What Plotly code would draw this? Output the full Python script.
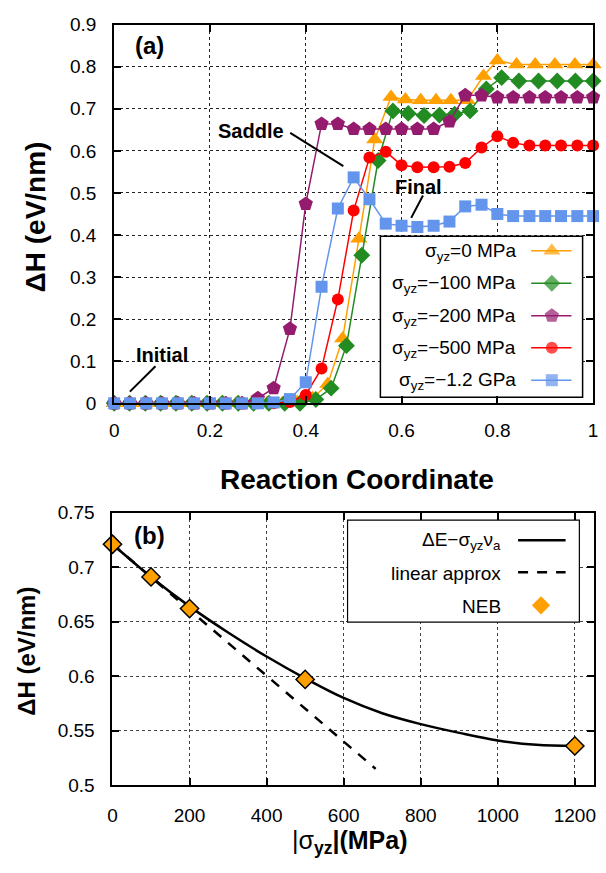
import plotly.graph_objects as go

# ---------------- panel (a): enthalpy along the reaction coordinate ----------------
rc_0 = [0.000, 0.032, 0.064, 0.096, 0.128, 0.159, 0.191, 0.223, 0.255, 0.287, 0.319, 0.351,
        0.382, 0.414, 0.446, 0.477, 0.511, 0.544, 0.578, 0.608, 0.640, 0.672, 0.703, 0.737,
        0.771, 0.800, 0.840, 0.879, 0.920, 0.962, 1.000]
dh_0 = [0, 0, 0, 0, 0, 0, 0, 0, 0, 0, 0, 0,
        0.003, 0.012, 0.046, 0.154, 0.391, 0.627, 0.728, 0.722, 0.720, 0.720, 0.720, 0.720,
        0.778, 0.815, 0.805, 0.805, 0.805, 0.805, 0.805]

rc_100 = [0.000, 0.032, 0.065, 0.097, 0.129, 0.162, 0.194, 0.226, 0.259, 0.291, 0.323, 0.356,
          0.388, 0.421, 0.453, 0.485, 0.517, 0.551, 0.582, 0.614, 0.647, 0.679, 0.711, 0.743,
          0.777, 0.809, 0.845, 0.886, 0.925, 0.963, 1.000]
dh_100 = [0, 0, 0, 0, 0, 0, 0, 0, 0, 0, 0, 0,
          0, 0.009, 0.036, 0.137, 0.352, 0.577, 0.695, 0.689, 0.684, 0.685, 0.687, 0.695,
          0.747, 0.774, 0.766, 0.766, 0.766, 0.766, 0.766]

rc_200 = [0.000, 0.033, 0.067, 0.100, 0.133, 0.167, 0.200, 0.233, 0.267, 0.300, 0.333, 0.367,
          0.400, 0.433, 0.467, 0.500, 0.533, 0.567, 0.600, 0.633, 0.667, 0.700, 0.733, 0.767,
          0.800, 0.833, 0.867, 0.900, 0.933, 0.967, 1.000]
dh_200 = [0, 0, 0, 0, 0, 0, 0, 0, 0, 0.012, 0.036, 0.177,
          0.474, 0.664, 0.664, 0.652, 0.652, 0.652, 0.652, 0.652, 0.652, 0.670, 0.732, 0.732,
          0.727, 0.727, 0.727, 0.727, 0.727, 0.727, 0.727]

rc_500 = list(rc_200)
dh_500 = [0, 0, 0, 0, 0, 0, 0, 0, 0, 0, 0, 0.003,
          0.020, 0.083, 0.247, 0.458, 0.584, 0.598, 0.566, 0.561, 0.561, 0.562, 0.571, 0.608,
          0.635, 0.619, 0.613, 0.613, 0.613, 0.613, 0.613]

rc_1200 = list(rc_200)
dh_1200 = [0, 0, 0, 0, 0, 0, 0, 0, 0, 0, 0.002, 0.010,
           0.050, 0.277, 0.463, 0.537, 0.485, 0.427, 0.422, 0.419, 0.422, 0.432, 0.468, 0.472,
           0.450, 0.445, 0.445, 0.445, 0.445, 0.445, 0.445]

series_labels = ["σ<sub>yz</sub>=0 MPa", "σ<sub>yz</sub>=−100 MPa", "σ<sub>yz</sub>=−200 MPa",
                 "σ<sub>yz</sub>=−500 MPa", "σ<sub>yz</sub>=−1.2 GPa"]
series_x = [rc_0, rc_100, rc_200, rc_500, rc_1200]
series_y = [dh_0, dh_100, dh_200, dh_500, dh_1200]
series_colors = ["#FFA000", "#228B22", "#951B6E", "#FF0000", "#6495ED"]
series_symbols = ["triangle-up", "diamond", "pentagon", "circle", "square"]
series_sizes = [15, 13, 15, 12, 12]

ticks_a_x = [0, 0.2, 0.4, 0.6, 0.8, 1]
ticks_a_x_text = ["0", "0.2", "0.4", "0.6", "0.8", "1"]
ticks_a_y = [0, 0.1, 0.2, 0.3, 0.4, 0.5, 0.6, 0.7, 0.8, 0.9]
ticks_a_y_text = ["0", "0.1", "0.2", "0.3", "0.4", "0.5", "0.6", "0.7", "0.8", "0.9"]

# ---------------- panel (b): barrier versus applied shear stress ----------------
stress_neb = [0, 100, 200, 500, 1200]
dh_neb = [0.721, 0.691, 0.662, 0.597, 0.536]

stress_model = [0, 100, 200, 300, 400, 500, 600, 700, 800, 900, 1000, 1100, 1200]
dh_model = [0.721, 0.691, 0.664, 0.640, 0.618, 0.598, 0.580, 0.566, 0.556, 0.548, 0.541, 0.537, 0.536]

stress_linear = [0, 683]
dh_linear = [0.721, 0.515]

ticks_b_x = [0, 200, 400, 600, 800, 1000, 1200]
ticks_b_y = [0.5, 0.55, 0.6, 0.65, 0.7, 0.75]
ticks_b_y_text = ["0.5", "0.55", "0.6", "0.65", "0.7", "0.75"]

W, H = 606, 873
FONT = "Liberation Sans, Arial, sans-serif"

# pixel frames of the two plotting areas
A_L, A_R, A_T, A_B = 111, 598, 15, 403
B_L, B_R, B_T, B_B = 109.3, 599, 515, 794.3
A_XR, A_YR = (0, 1), (0, 0.9)
B_XR, B_YR = (0, 1250), (0.5, 0.75)


def ax_a(px):
    return A_XR[0] + (px - A_L) / (A_R - A_L) * (A_XR[1] - A_XR[0])


def ay_a(py):
    return A_YR[0] + (A_B - py) / (A_B - A_T) * (A_YR[1] - A_YR[0])


def ax_b(px):
    return B_XR[0] + (px - B_L) / (B_R - B_L) * (B_XR[1] - B_XR[0])


def ay_b(py):
    return B_YR[0] + (B_B - py) / (B_B - B_T) * (B_YR[1] - B_YR[0])


def paper(px, py):
    return px / W, 1 - py / H


fig = go.Figure()

for xs, ys, col, sym, sz in zip(series_x, series_y, series_colors, series_symbols, series_sizes):
    fig.add_trace(go.Scatter(
        x=xs, y=ys, mode="lines+markers", xaxis="x", yaxis="y",
        line=dict(color=col, width=1.5),
        marker=dict(symbol=sym, size=sz, color=col, line=dict(width=0)),
        cliponaxis=False, showlegend=False, hoverinfo="skip"))

# key for panel (a)
key_a_rows = [246.7, 280, 313.3, 346, 379.3]
for lab, col, sym, sz, py in zip(series_labels, series_colors, series_symbols, series_sizes, key_a_rows):
    fig.add_trace(go.Scatter(
        x=[ax_a(535), ax_a(556), ax_a(576)], y=[ay_a(py)] * 3, mode="lines+markers",
        xaxis="x", yaxis="y", line=dict(color=col, width=1.5),
        marker=dict(symbol=sym, size=[0, sz, 0], color=col, line=dict(width=0)),
        cliponaxis=False, showlegend=False, hoverinfo="skip"))

# panel (b) curves
fig.add_trace(go.Scatter(
    x=stress_model, y=dh_model, mode="lines", xaxis="x2", yaxis="y2",
    line=dict(color="black", width=2.5, shape="spline"), showlegend=False, hoverinfo="skip"))
fig.add_trace(go.Scatter(
    x=stress_linear, y=dh_linear, mode="lines", xaxis="x2", yaxis="y2",
    line=dict(color="black", width=2.5, dash="10px,9px"), showlegend=False, hoverinfo="skip"))
fig.add_trace(go.Scatter(
    x=stress_neb, y=dh_neb, mode="markers", xaxis="x2", yaxis="y2",
    marker=dict(symbol="diamond", size=14, color="#FFA000", line=dict(color="black", width=1.5)),
    cliponaxis=False, showlegend=False, hoverinfo="skip"))

# key for panel (b)
key_b_rows = [543.3, 576, 610]
fig.add_trace(go.Scatter(
    x=[ax_b(521.7), ax_b(570)], y=[ay_b(key_b_rows[0])] * 2, mode="lines", xaxis="x2", yaxis="y2",
    line=dict(color="black", width=2.5), showlegend=False, hoverinfo="skip"))
fig.add_trace(go.Scatter(
    x=[ax_b(521.7), ax_b(570)], y=[ay_b(key_b_rows[1])] * 2, mode="lines", xaxis="x2", yaxis="y2",
    line=dict(color="black", width=2.5, dash="10px,9px"), showlegend=False, hoverinfo="skip"))
fig.add_trace(go.Scatter(
    x=[ax_b(545)], y=[ay_b(key_b_rows[2])], mode="markers", xaxis="x2", yaxis="y2",
    marker=dict(symbol="diamond", size=14, color="#FFA000", line=dict(width=0)),
    cliponaxis=False, showlegend=False, hoverinfo="skip"))

shapes = [
    # key frames (between grid and traces)
    dict(type="rect", xref="x", yref="y", layer="between",
         x0=ax_a(381.7), x1=ax_a(587.3), y0=ay_a(396.7), y1=ay_a(231.7),
         fillcolor="white", line=dict(color="black", width=1.5)),
    dict(type="rect", xref="x2", yref="y2", layer="between",
         x0=ax_b(348.3), x1=ax_b(584), y0=ay_b(627.3), y1=ay_b(522.7),
         fillcolor="white", line=dict(color="black", width=1.2)),
]
# pointer lines for the labelled states
for (x0, y0, x1, y1) in [(290, 126, 344, 160), (425, 190, 413, 213), (153, 365, 127, 391)]:
    p0 = paper(x0, y0)
    p1 = paper(x1, y1)
    shapes.append(dict(type="line", xref="paper", yref="paper", x0=p0[0], y0=p0[1], x1=p1[0], y1=p1[1],
                       line=dict(color="black", width=2)))

annotations = []


def note(text, px, py, size, bold=False, xanchor="center", angle=0):
    x, y = paper(px, py)
    annotations.append(dict(
        text=f"<b>{text}</b>" if bold else text, x=x, y=y, xref="paper", yref="paper",
        xanchor=xanchor, yanchor="middle", showarrow=False, textangle=angle,
        font=dict(family=FONT, size=size, color="black")))


note("(a)", 146.7, 36.7, 24, bold=True)
note("Saddle", 250, 124, 20, bold=True)
note("Final", 420, 181.7, 20, bold=True)
note("Initial", 160, 353, 20, bold=True)
note("(b)", 146.7, 538, 24, bold=True)

for lab, py in zip(series_labels, key_a_rows):
    note(lab, 521.7, py + 1, 19, xanchor="right")

key_b_labels = ["ΔE−σ<sub>yz</sub>ν<sub>a</sub>", "linear approx", "NEB"]
for lab, py in zip(key_b_labels, key_b_rows):
    note(lab, 506.7, py + 1, 19, xanchor="right")

note("ΔH (eV/nm)", 31, 212, 28, bold=True, angle=-90)
note("ΔH (eV/nm)", 22, 657, 24, bold=True, angle=-90)
note("Reaction Coordinate", 358, 481, 28, bold=True)
note("|σ<sub><b>yz</b></sub><b>|(MPa)</b>", 350, 852, 25)

axis_common = dict(showline=True, linecolor="black", mirror="ticks", ticks="inside",
                   tickcolor="black", tickwidth=1.5, ticklen=7, showgrid=True,
                   griddash="dot", zeroline=False,
                   tickfont=dict(family=FONT, size=19, color="black"))

fig.update_layout(
    width=W, height=H, margin=dict(l=0, r=0, t=0, b=0),
    paper_bgcolor="white", plot_bgcolor="white",
    xaxis=dict(domain=[A_L / W, A_R / W], anchor="y", range=list(A_XR),
               tickvals=ticks_a_x, ticktext=ticks_a_x_text, linewidth=2,
               gridcolor="#222", gridwidth=1.2, ticklabelstandoff=9, **axis_common),
    yaxis=dict(domain=[1 - A_B / H, 1 - A_T / H], anchor="x", range=list(A_YR),
               tickvals=ticks_a_y, ticktext=ticks_a_y_text, linewidth=2,
               gridcolor="#222", gridwidth=1.2, ticklabelstandoff=12, **axis_common),
    xaxis2=dict(domain=[B_L / W, B_R / W], anchor="y2", range=list(B_XR),
                tickvals=ticks_b_x, linewidth=2,
                gridcolor="#444", gridwidth=1, ticklabelstandoff=12, **axis_common),
    yaxis2=dict(domain=[1 - B_B / H, 1 - B_T / H], anchor="x2", range=list(B_YR),
                tickvals=ticks_b_y, ticktext=ticks_b_y_text, linewidth=2,
                gridcolor="#444", gridwidth=1, ticklabelstandoff=12, **axis_common),
    shapes=shapes, annotations=annotations,
)

fig.write_html("out.html")
